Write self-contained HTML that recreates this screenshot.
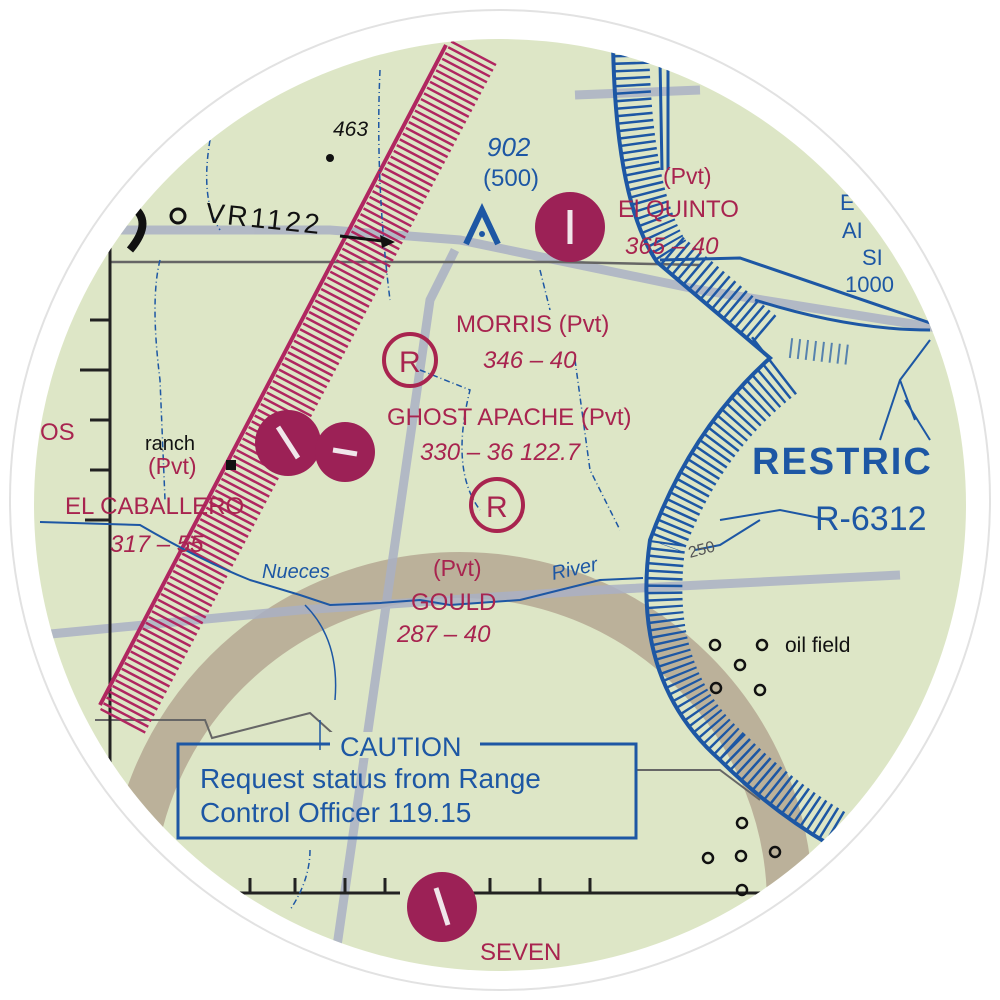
<!DOCTYPE html>
<html><head><meta charset="utf-8"><style>
html,body{margin:0;padding:0;background:#fff;width:1000px;height:1000px;overflow:hidden;}
svg{display:block;position:absolute;left:0;top:0;}
text{font-family:"Liberation Sans",sans-serif;}
</style></head><body>
<svg width="1000" height="1000" viewBox="0 0 1000 1000">
<defs>
<clipPath id="c"><circle cx="500" cy="505" r="466"/></clipPath>
<clipPath id="rb"><path d="M613 40 Q615 200 657 262 L770 358 Q690 430 650 540 Q630 680 720 760 Q770 810 830 845 L1000 1000 L1000 0 Z"/></clipPath>
<clipPath id="mb"><path d="M452 40 L100 710 L400 1000 L800 0 Z"/></clipPath>
</defs>
<circle cx="500" cy="500" r="490" fill="#fff" stroke="#e2e2e2" stroke-width="2"/>
<g clip-path="url(#c)">
<rect width="1000" height="1000" fill="#dde6c6"/>
<circle cx="460" cy="905" r="330" fill="none" stroke="#8c6a5e" stroke-opacity="0.42" stroke-width="46"/>
<g stroke="#aab0c4" stroke-width="9" fill="none" opacity="0.85">
<path d="M40 230 L330 230 L460 240 L700 290 L950 330"/>
<path d="M575 95 L700 90"/>
<path d="M455 250 L430 300 L335 960"/>
<path d="M40 635 L300 610 L600 590 L900 575"/>
</g>
<path d="M110 262 L560 262 L700 265" stroke="#666" stroke-width="2.5" fill="none"/>
<path d="M95 720 L205 720 L212 738 L310 713 L340 740" stroke="#666" stroke-width="2" fill="none"/>
<path d="M636 770 L720 770 L760 800" stroke="#666" stroke-width="2" fill="none"/>
<path d="M110 240 L110 960" stroke="#222" stroke-width="3"/>
<g stroke="#222" stroke-width="3"><path d="M90 320h20M80 370h30M90 420h20M90 470h20M85 520h25M60 893h340M470 893h300"/>
<path d="M250 893v-15M295 893v-15M345 893v-15M385 893v-15M490 893v-15M540 893v-15M590 893v-15"/></g>
<g clip-path="url(#mb)">
<path d="M470 50 L118 720" stroke="#b02660" stroke-width="60" stroke-dasharray="2.5 4" fill="none"/>
</g>
<path d="M446 45 L100 705" stroke="#b02660" stroke-width="4" fill="none"/>
<g fill="none" stroke="#1d57a4">
<g clip-path="url(#rb)">
<path d="M613 40 Q615 200 657 262 L755 345" stroke-width="72" stroke-dasharray="2.5 5"/>
<path d="M775 365 Q690 430 650 540 Q630 680 720 760 Q770 810 830 845" stroke-width="72" stroke-dasharray="2.5 5"/>
</g>
<path d="M613 40 Q615 200 657 262 L770 358 Q690 430 650 540 Q630 680 720 760 Q770 810 830 845" stroke-width="4"/>
<path d="M790 348 L850 355" stroke-width="20" stroke-dasharray="2 6" opacity="0.7"/>
<path d="M660 60 L662 170 M668 60 L668 170" stroke-width="3"/>
<path d="M660 260 L740 258 L980 340" stroke-width="3"/>
<path d="M755 300 Q850 330 930 330" stroke-width="3"/>
<path d="M930 340 L900 380 L880 440 M900 380 L915 420 M905 400 L930 440 M720 520 L780 510 L830 520 M695 550 L720 545 L760 520" stroke-width="2"/>
<path d="M40 522 L140 525 Q200 560 250 580 L300 595 L330 605 L380 603 L420 600 L450 605 L520 600 L560 590 L600 580 L643 578" stroke-width="2"/>
<path d="M305 605 Q340 640 335 700 M320 720 L320 750" stroke-width="1.5"/>
<path d="M160 260 Q150 300 160 380 L165 500 M210 140 Q200 200 220 230 M380 70 Q375 180 390 300 M420 370 L470 390 Q450 470 480 510 M540 270 L550 310 M575 360 L590 470 L620 530 M310 850 Q310 880 290 910" stroke-width="1.5" stroke-dasharray="6 3 1 3"/>
</g>
<rect x="178" y="744" width="458" height="94" fill="none" stroke="#1d57a4" stroke-width="3"/>
<rect x="330" y="732" width="150" height="26" fill="#dde6c6"/>
<text x="340" y="756" font-size="27" fill="#1d57a4">CAUTION</text>
<text x="200" y="788" font-size="28" fill="#1d57a4">Request status from Range</text>
<text x="200" y="822" font-size="28" fill="#1d57a4">Control Officer 119.15</text>
<text x="487" y="156" font-size="26" font-style="italic" fill="#1d57a4">902</text>
<text x="483" y="186" font-size="24" fill="#1d57a4">(500)</text>
<path d="M466 244 L482 210 L498 244" stroke="#1d57a4" stroke-width="6" fill="none"/>
<circle cx="482" cy="234" r="3" fill="#1d57a4"/>
<text x="752" y="474" font-size="38" fill="#1d57a4" font-weight="bold" letter-spacing="2">RESTRIC</text>
<text x="815" y="530" font-size="34" fill="#1d57a4">R-6312</text>
<text x="840" y="210" font-size="22" fill="#1d57a4">E</text>
<text x="842" y="238" font-size="22" fill="#1d57a4">AI</text>
<text x="862" y="265" font-size="22" fill="#1d57a4">SI</text>
<text x="845" y="292" font-size="22" fill="#1d57a4">1000</text>
<text x="262" y="578" font-size="20" font-style="italic" fill="#1d57a4">Nueces</text>
<text x="553" y="580" font-size="20" font-style="italic" fill="#1d57a4" transform="rotate(-12 553 580)">River</text>
<text x="690" y="558" font-size="16" fill="#555" transform="rotate(-15 690 558)">250</text>
<text x="333" y="136" font-size="21" font-style="italic" fill="#111">463</text>
<circle cx="330" cy="158" r="4" fill="#111"/>
<text x="205" y="222" font-size="28" fill="#111" letter-spacing="3" transform="rotate(6 205 222)">VR1122</text>
<path d="M340 236 L390 242" stroke="#111" stroke-width="3"/><path d="M395 242 L380 235 L382 248 Z" fill="#111"/>
<circle cx="178" cy="216" r="7" fill="none" stroke="#111" stroke-width="3"/>
<path d="M130 205 Q155 220 130 250" stroke="#111" stroke-width="8" fill="none"/>
<text x="145" y="450" font-size="20" fill="#111">ranch</text>
<rect x="226" y="460" width="10" height="10" fill="#111"/>
<text x="785" y="652" font-size="21" fill="#111">oil field</text>
<g fill="none" stroke="#111" stroke-width="2.5">
<circle cx="715" cy="645" r="5"/><circle cx="762" cy="645" r="5"/><circle cx="740" cy="665" r="5"/><circle cx="716" cy="688" r="5"/><circle cx="760" cy="690" r="5"/>
<circle cx="742" cy="823" r="5"/><circle cx="708" cy="858" r="5"/><circle cx="741" cy="856" r="5"/><circle cx="775" cy="852" r="5"/><circle cx="742" cy="890" r="5"/>
</g>
<g fill="#a8244f">
<text x="663" y="184" font-size="23">(Pvt)</text>
<text x="618" y="217" font-size="24">El QUINTO</text>
<text x="625" y="254" font-size="24" font-style="italic">365 – 40</text>
<text x="456" y="332" font-size="24">MORRIS (Pvt)</text>
<text x="483" y="368" font-size="24" font-style="italic">346 – 40</text>
<text x="387" y="425" font-size="24">GHOST APACHE (Pvt)</text>
<text x="420" y="460" font-size="24" font-style="italic">330 – 36 122.7</text>
<text x="433" y="576" font-size="23">(Pvt)</text>
<text x="411" y="610" font-size="24">GOULD</text>
<text x="397" y="642" font-size="24" font-style="italic">287 – 40</text>
<text x="40" y="440" font-size="24">OS</text>
<text x="148" y="474" font-size="23">(Pvt)</text>
<text x="65" y="514" font-size="24">EL CABALLERO</text>
<text x="110" y="552" font-size="24" font-style="italic">317 – 55</text>
<text x="480" y="960" font-size="24">SEVEN</text>
</g>
<g fill="#9c2156">
<circle cx="570" cy="227" r="35"/>
<circle cx="288" cy="443" r="33"/>
<circle cx="345" cy="452" r="30"/>
<circle cx="442" cy="907" r="35"/>
</g>
<g stroke="#f0e6ea" stroke-width="5">
<path d="M570 210 L570 244"/><path d="M278 427 L298 458"/><path d="M333 450 L357 454"/><path d="M436 888 L448 925"/>
</g>
<g fill="none" stroke="#a8244f" stroke-width="4">
<circle cx="410" cy="360" r="26"/><circle cx="497" cy="505" r="26"/>
</g>
<text x="399" y="372" font-size="30" fill="#a8244f">R</text>
<text x="486" y="517" font-size="30" fill="#a8244f">R</text>
</g>
</svg>
</body></html>
